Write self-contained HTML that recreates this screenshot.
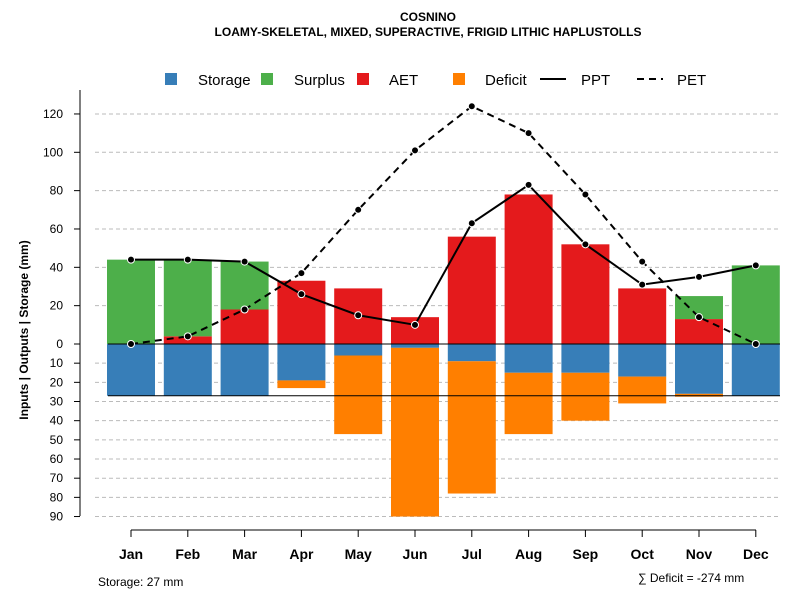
<!DOCTYPE html>
<html><head><meta charset="utf-8"><style>
body{margin:0;background:#fff}
svg text{font-family:"Liberation Sans",sans-serif}
</style></head><body>
<svg id="chart" width="800" height="600" xmlns="http://www.w3.org/2000/svg">
<text x="428" y="21" text-anchor="middle" font-size="12" font-weight="bold">COSNINO</text>
<text x="428" y="36" text-anchor="middle" font-size="12" font-weight="bold">LOAMY-SKELETAL, MIXED, SUPERACTIVE, FRIGID LITHIC HAPLUSTOLLS</text>
<g id="legend">
<rect x="165" y="73" width="12" height="12" fill="#377eb8"/><text x="198" y="85" font-size="15">Storage</text>
<rect x="261" y="73" width="12" height="12" fill="#4daf4a"/><text x="294" y="85" font-size="15">Surplus</text>
<rect x="357" y="73" width="12" height="12" fill="#e41a1c"/><text x="389" y="85" font-size="15">AET</text>
<rect x="453" y="73" width="12" height="12" fill="#ff7f00"/><text x="485" y="85" font-size="15">Deficit</text>
<line x1="540" y1="79" x2="566" y2="79" stroke="#000" stroke-width="2"/><text x="581" y="85" font-size="15">PPT</text>
<line x1="637" y1="79" x2="663" y2="79" stroke="#000" stroke-width="2" stroke-dasharray="7,5"/><text x="677" y="85" font-size="15">PET</text>
</g>
<text transform="translate(28,330) rotate(-90)" text-anchor="middle" font-size="12" font-weight="bold">Inputs | Outputs | Storage    (mm)</text>
<text x="98" y="586" font-size="12">Storage: 27 mm</text>
<text x="638" y="582" font-size="12">∑ Deficit = -274 mm</text>
<g id="grid"></g><g id="bars"></g><g id="lines"></g><g id="axes"></g>
</svg>
<script>
const months=["Jan","Feb","Mar","Apr","May","Jun","Jul","Aug","Sep","Oct","Nov","Dec"];
const storage=[27,27,27,19,6,2,9,15,15,17,26,27];
const deficit=[0,0,0,4,41,88,69,32,25,14,1.5,0];
const aet=[0,4,18,33,29,14,56,78,52,29,13,0];
const surplus=[44,40,25,0,0,0,0,0,0,0,12,41];
const ppt=[44,44,43,26,15,10,63,83,52,31,35,41];
const pet=[0,4,18,37,70,101,124,110,78,43,14,0];
const posTicks=[0,20,40,60,80,100,120];
const negTicks=[10,20,30,40,50,60,70,80,90];
const storageMax=27;
const NS="http://www.w3.org/2000/svg";
const y=v=>344-v*1.917;
const x=i=>131+i*56.8;
const bw=48;
function mk(t,a,p){const e=document.createElementNS(NS,t);for(const k in a)e.setAttribute(k,a[k]);document.getElementById(p).appendChild(e);return e;}
posTicks.concat(negTicks.map(v=>-v)).forEach(v=>{
 if(v!==0){const g=mk("line",{x1:95,x2:780,y1:y(v),y2:y(v),stroke:"#bbb","stroke-dasharray":"4,3"},"grid");
 
 }
 const t=mk("text",{x:63,y:y(v)+4,"text-anchor":"end","font-size":12},"grid");t.textContent=Math.abs(v);
 
 
 const tk=mk("line",{x1:74,x2:80,y1:y(v),y2:y(v),stroke:"#000"},"axes");
 
 
});
months.forEach((m,i)=>{
 const cx=x(i),l=cx-bw/2;
 const s=mk("rect",{x:l,y:y(0),width:bw,height:y(-storage[i])-y(0),fill:"#377eb8"},"bars");
 
 
 if(deficit[i]>0){const d=mk("rect",{x:l,y:y(-storage[i]),width:bw,height:y(-storage[i]-deficit[i])-y(-storage[i]),fill:"#ff7f00"},"bars");
 
 }
 if(aet[i]>0){const a=mk("rect",{x:l,y:y(aet[i]),width:bw,height:y(0)-y(aet[i]),fill:"#e41a1c"},"bars");
 
 }
 if(surplus[i]>0){const u=mk("rect",{x:l,y:y(aet[i]+surplus[i]),width:bw,height:y(aet[i])-y(aet[i]+surplus[i]),fill:"#4daf4a"},"bars");
 
 }
 const t=mk("text",{x:cx,y:559,"text-anchor":"middle","font-size":14,"font-weight":"bold"},"axes");t.textContent=m;
 
 
 const tk=mk("line",{x1:cx,x2:cx,y1:530,y2:537,stroke:"#000"},"axes");
 
 
});
const z=mk("line",{x1:108,x2:780,y1:y(0),y2:y(0),stroke:"#000"},"lines");


const sl=mk("line",{x1:108,x2:780,y1:y(-storageMax),y2:y(-storageMax),stroke:"#000"},"lines");


[[ppt,"","ppt"],[pet,"7,5","pet"]].forEach(([arr,dash,n])=>{
 const p=mk("polyline",{points:arr.map((v,i)=>x(i)+","+y(v)).join(" "),fill:"none",stroke:"#000","stroke-width":2,"stroke-dasharray":dash},"lines");
 
 
 arr.forEach((v,i)=>{const c=mk("circle",{cx:x(i),cy:y(v),r:3.5,fill:"#000",stroke:"#fff","stroke-width":1},"lines");
 
 });
});
const ya=mk("line",{x1:80,x2:80,y1:90,y2:516,stroke:"#000"},"axes");


const xa=mk("line",{x1:131,x2:756,y1:530,y2:530,stroke:"#000"},"axes");


</script>
</body></html>
